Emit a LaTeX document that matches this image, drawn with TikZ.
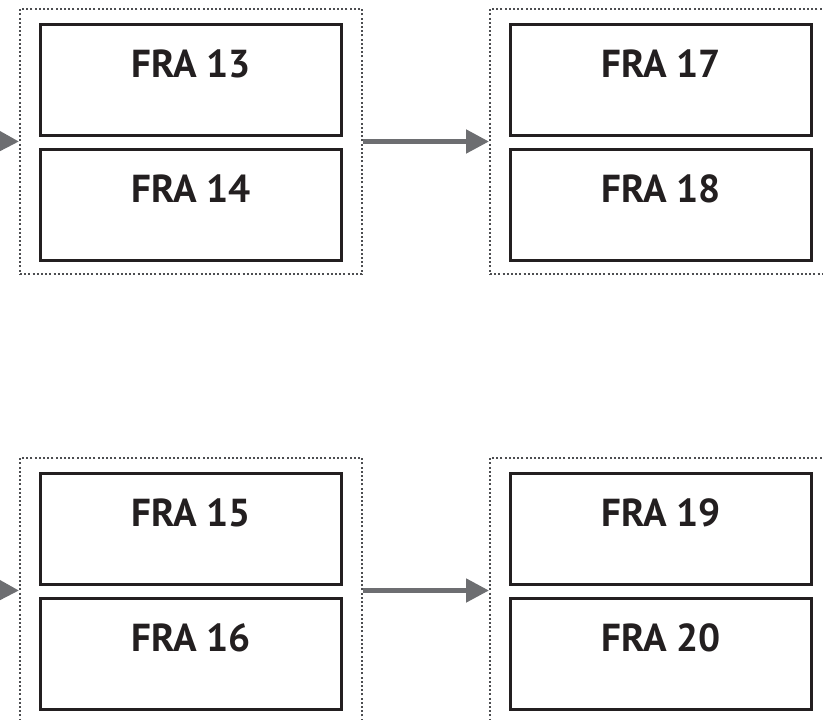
\documentclass[tikz,border=0pt]{standalone}
\usepackage{fontspec}
\setmainfont{PT Sans}
\usetikzlibrary{arrows.meta}
\definecolor{arrgray}{HTML}{6D6E71}
\definecolor{dotgray}{HTML}{4D4E51}
\definecolor{boxblack}{HTML}{231F20}
\begin{document}
\begin{tikzpicture}[x=1pt,y=-1pt,
 group/.style={draw=dotgray, line width=2pt, dash pattern=on 2pt off 2.2pt, minimum width=342pt, minimum height=265pt, inner sep=0pt, anchor=north west},
 frabox/.style={draw=boxblack, line width=3pt, minimum width=301pt, minimum height=111pt, inner sep=0pt, anchor=north west},
 lbl/.style={font=\fontsize{39}{39}\selectfont\bfseries, text=boxblack, anchor=base, inner sep=0pt},
 flow/.style={draw=arrgray, line width=5pt, -{Triangle[length=23pt,width=23pt]}}]
\useasboundingbox (0,0) rectangle (823,720);
\clip (0,0) rectangle (823,720);
\node[group] (g1) at (19,8) {};
\node[group] (g2) at (489,8) {};
\node[group] (g3) at (19,457) {};
\node[group] (g4) at (489,457) {};
\node[frabox] (b13) at (39,23) {};
\node[frabox] (b14) at (39,148) {};
\node[frabox] (b17) at (509,23) {};
\node[frabox] (b18) at (509,148) {};
\node[frabox] (b15) at (39,472) {};
\node[frabox] (b16) at (39,597) {};
\node[frabox] (b19) at (509,472) {};
\node[frabox] (b20) at (509,597) {};
\node[lbl] (t13) at ([yshift=-54pt]b13.north) {FRA 13};
\node[lbl] (t14) at ([yshift=-54pt]b14.north) {FRA 14};
\node[lbl] (t17) at ([yshift=-54pt]b17.north) {FRA 17};
\node[lbl] (t18) at ([yshift=-54pt]b18.north) {FRA 18};
\node[lbl] (t15) at ([yshift=-54pt]b15.north) {FRA 15};
\node[lbl] (t16) at ([yshift=-54pt]b16.north) {FRA 16};
\node[lbl] (t19) at ([yshift=-54pt]b19.north) {FRA 19};
\node[lbl] (t20) at ([yshift=-54pt]b20.north) {FRA 20};
\coordinate (in1) at (-40,140.5);
\coordinate (in2) at (-40,589.5);
\draw[flow] (in1) -- (g1.west);
\draw[flow] (in2) -- (g3.west);
\draw[flow] (g1.east) -- (g2.west);
\draw[flow] (g3.east) -- (g4.west);
\end{tikzpicture}
\end{document}
